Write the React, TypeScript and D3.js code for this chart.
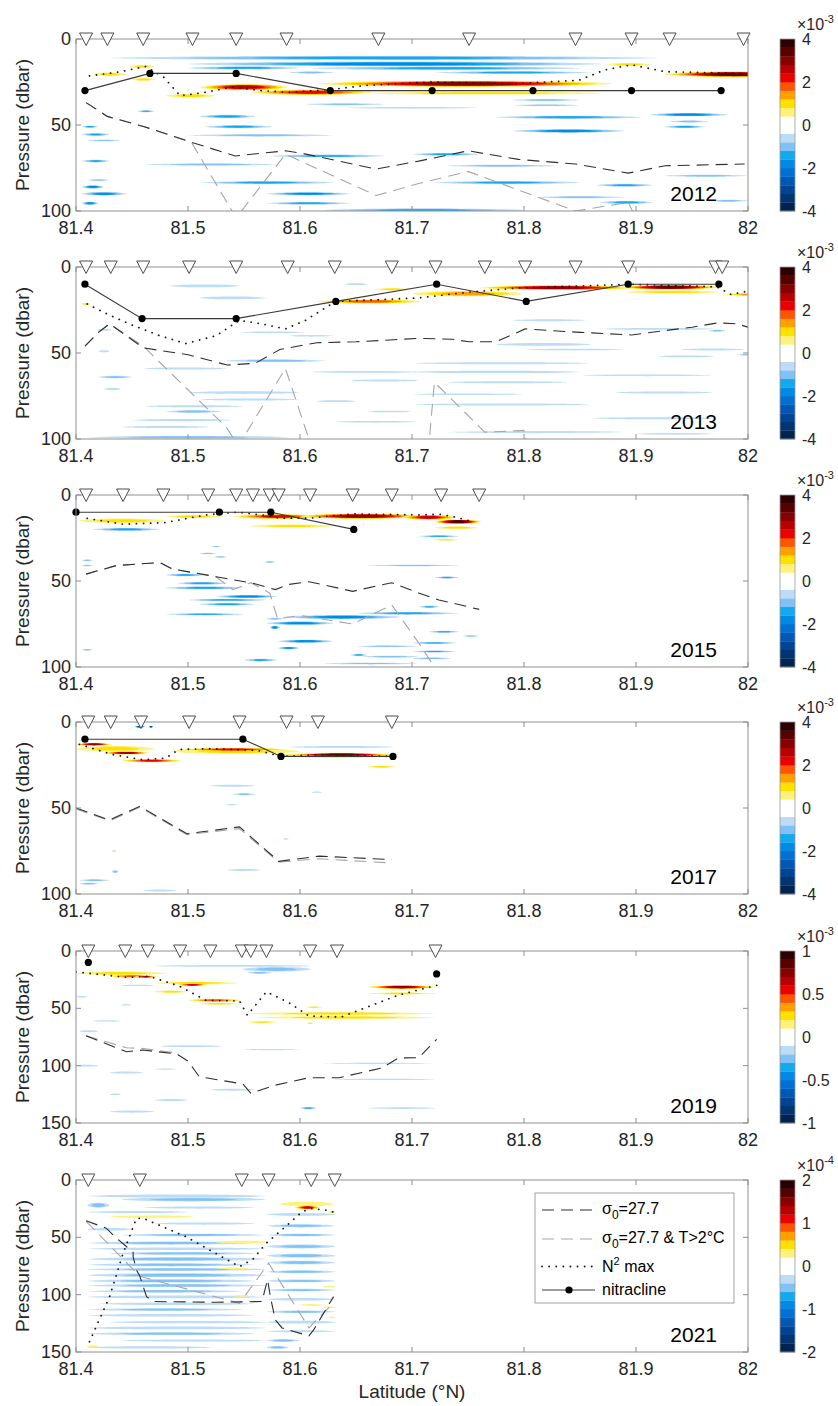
import React from 'react';
import * as d3 from 'd3';

type Pt = [number, number];
type NPt = [number, number | null];
// [lat start, lat end, pressure centre, half thickness (dbar), value]
type Streak = [number, number, number, number, number];

const FONT = "'Liberation Sans', Arial, Helvetica, sans-serif";
const W = 838;
const H = 1406;
const X0 = 76;
const X1 = 748;
const PANEL_TOPS = [39, 267, 495, 722, 951, 1180];
const PANEL_H = 172;
const CB_X = 780;
const CB_W = 15;

const latTicks = [81.4, 81.5, 81.6, 81.7, 81.8, 81.9, 82];
const latTickLabels = ['81.4', '81.5', '81.6', '81.7', '81.8', '81.9', '82'];

const years = ['2012', '2013', '2015', '2017', '2019', '2021'];
const pressureMax = [100, 100, 100, 100, 150, 150];
const pressureTicks = [[0, 50, 100], [0, 50, 100], [0, 50, 100], [0, 50, 100], [0, 50, 100, 150], [0, 50, 100, 150]];
const colorMax = [4, 4, 4, 4, 1, 2];
const colorExponent = ['-3', '-3', '-3', '-3', '-3', '-4'];
const colorTicks = [
  [-4, -2, 0, 2, 4], [-4, -2, 0, 2, 4], [-4, -2, 0, 2, 4], [-4, -2, 0, 2, 4],
  [-1, -0.5, 0, 0.5, 1], [-2, -1, 0, 1, 2],
];

// Diverging palette: nine shades each side of a white centre
const posColors = ['#fff27c', '#ffe100', '#ffa000', '#ff5400', '#ea0000', '#b80000', '#880000', '#580000', '#2c0000'];
const negColors = ['#bcdcf8', '#80c2f5', '#12a9ef', '#008ae6', '#0070d2', '#0058b4', '#004594', '#003574', '#002350'];

// CTD stations
const stations2012 = [81.409, 81.428, 81.46, 81.504, 81.543, 81.588, 81.67, 81.751, 81.846, 81.896, 81.93, 81.996];
const stations2013 = [81.409, 81.431, 81.46, 81.501, 81.543, 81.589, 81.631, 81.682, 81.721, 81.765, 81.801, 81.846, 81.893, 81.971, 81.977];
const stations2015 = [81.409, 81.442, 81.478, 81.518, 81.543, 81.558, 81.573, 81.581, 81.609, 81.647, 81.682, 81.726, 81.76];
const stations2017 = [81.411, 81.431, 81.458, 81.501, 81.546, 81.588, 81.616, 81.682];
const stations2019 = [81.411, 81.444, 81.464, 81.493, 81.52, 81.548, 81.556, 81.57, 81.609, 81.633, 81.721];
const stations2021 = [81.411, 81.457, 81.548, 81.572, 81.61, 81.631];

// Nitracline depth
const nitra2012: NPt[] = [[81.408, 30], [81.466, 20], [81.543, 20], [81.627, 30], [81.718, 30], [81.808, 30], [81.896, 30], [81.976, 30]];
const nitra2013: NPt[] = [[81.408, 10], [81.459, 30], [81.543, 30], [81.632, 20], [81.722, 10], [81.802, 20], [81.893, 10], [81.974, 10]];
const nitra2015: NPt[] = [[81.4, 10], [81.528, 10], [81.574, 10], [81.648, 20]];
const nitra2017: NPt[] = [[81.408, 10], [81.549, 10], [81.583, 20], [81.683, 20]];
const nitra2019: NPt[] = [[81.411, 10], [81.55, null], [81.722, 20]];
const nitra2021: NPt[] = [];

// Depth of the buoyancy frequency maximum
const n2max2012: Pt[] = [[81.412, 21.5], [81.44, 19], [81.462, 16], [81.478, 22], [81.493, 33], [81.515, 31], [81.54, 28], [81.565, 30], [81.59, 31], [81.625, 29.5], [81.66, 27], [81.717, 25], [81.79, 26], [81.849, 24], [81.872, 18], [81.896, 15], [81.926, 19], [81.997, 20]];
const n2max2013: Pt[] = [[81.41, 21.5], [81.43, 28], [81.451, 34], [81.475, 40], [81.498, 44.5], [81.525, 40], [81.546, 31], [81.565, 33], [81.587, 36], [81.605, 31], [81.617, 26], [81.632, 20], [81.706, 18], [81.751, 14.6], [81.795, 12.2], [81.85, 11], [81.893, 10], [81.972, 11.5], [81.985, 16], [82.0, 14]];
const n2max2015: Pt[] = [[81.41, 13.6], [81.442, 17], [81.48, 16], [81.516, 11.6], [81.544, 10], [81.566, 11.6], [81.582, 13.5], [81.608, 13.5], [81.647, 11], [81.707, 11.6], [81.725, 11.2], [81.737, 12.6], [81.752, 15.1]];
const n2max2017: Pt[] = [[81.403, 13], [81.433, 19], [81.46, 22], [81.48, 21], [81.492, 16], [81.52, 15.5], [81.562, 16.5], [81.583, 20], [81.617, 19], [81.683, 20]];
const n2max2019: Pt[] = [[81.4, 18.3], [81.445, 23], [81.465, 22], [81.492, 30.5], [81.516, 43], [81.546, 43.5], [81.553, 56], [81.57, 35.5], [81.59, 45], [81.608, 56.7], [81.637, 57.5], [81.688, 38.4], [81.722, 30]];
const n2max2021: Pt[] = [[81.412, 141], [81.43, 101.7], [81.442, 64], [81.454, 33.4], [81.46, 33.4], [81.498, 49.4], [81.546, 75.6], [81.558, 69], [81.57, 55], [81.587, 40.7], [81.602, 27.6], [81.61, 25], [81.625, 26.5], [81.63, 28]];

// Depth of the sigma0 = 27.7 isopycnal
const sigma2012: Pt[] = [[81.409, 37], [81.428, 45], [81.461, 51], [81.503, 60], [81.542, 68], [81.587, 65], [81.602, 66.5], [81.668, 75.6], [81.706, 71], [81.75, 65], [81.795, 70], [81.846, 72.7], [81.893, 78], [81.926, 73.7], [81.997, 72.7]];
const sigma2013: Pt[] = [[81.408, 46], [81.42, 38], [81.43, 33], [81.445, 40], [81.46, 47], [81.5, 51], [81.535, 57], [81.56, 56], [81.582, 48], [81.615, 44], [81.65, 43.5], [81.706, 41.5], [81.736, 42], [81.751, 43.5], [81.775, 43.5], [81.801, 36], [81.85, 38], [81.896, 39.5], [81.95, 35], [81.973, 32.5], [81.99, 33], [82.0, 35]];
const sigma2015: Pt[] = [[81.409, 46], [81.436, 41], [81.475, 39.3], [81.486, 43], [81.525, 47.5], [81.558, 51.3], [81.578, 55], [81.59, 52], [81.608, 50.4], [81.647, 56], [81.682, 51], [81.706, 57], [81.724, 61], [81.76, 66.5]];
const sigma2017: Pt[] = [[81.4, 50], [81.43, 57], [81.457, 49], [81.499, 65], [81.546, 61], [81.581, 81], [81.617, 78], [81.682, 80]];
const sigma2019: Pt[] = [[81.409, 74], [81.445, 87.8], [81.46, 86.4], [81.49, 89.8], [81.5, 96], [81.51, 109.6], [81.549, 116], [81.556, 124], [81.578, 117], [81.608, 110.5], [81.635, 110.5], [81.673, 102], [81.688, 93.3], [81.706, 93], [81.722, 77]];
const sigma2021: Pt[] = [[81.409, 35.5], [81.427, 42], [81.436, 50.6], [81.445, 58], [81.451, 63], [81.451, 67], [81.454, 78.5], [81.457, 84], [81.46, 93], [81.463, 101.7], [81.469, 106], [81.526, 106.6], [81.566, 106], [81.571, 87], [81.574, 104], [81.578, 122], [81.584, 129], [81.608, 136], [81.612, 131], [81.63, 101.7]];

// Same isopycnal where the water is warmer than 2 °C
const warm2012: Pt[] = [[81.409, 37], [81.428, 45], [81.461, 51], [81.503, 60], [81.543, 104], [81.587, 67], [81.668, 91], [81.706, 84], [81.75, 77], [81.846, 100], [81.893, 95], [81.9, 104]];
const warm2013: Pt[] = [[81.408, 46], [81.42, 38], [81.43, 33], [81.46, 46], [81.534, 93], [81.545, 104], [81.587, 59], [81.61, 104], [81.715, 104], [81.72, 67], [81.765, 96], [81.8, 95], [81.803, 104]];
const warm2015: Pt[] = [[81.409, 46], [81.436, 41], [81.475, 39.3], [81.486, 43], [81.525, 47.5], [81.54, 55], [81.556, 51], [81.573, 57], [81.58, 72], [81.6, 70], [81.647, 75], [81.682, 64], [81.706, 86], [81.718, 98]];
const warm2017: Pt[] = [[81.4, 50.5], [81.43, 57.5], [81.457, 49.5], [81.499, 65.5], [81.546, 62], [81.581, 81.5], [81.617, 79.5], [81.682, 82]];
const warm2019: Pt[] = [[81.409, 74], [81.43, 80], [81.445, 84.4], [81.46, 85], [81.49, 89]];
const warm2021: Pt[] = [[81.409, 36], [81.457, 84], [81.546, 107.5], [81.572, 72.6], [81.608, 129], [81.63, 107]];

// Filled-contour field, described as horizontal lenses
const field2012: Streak[] = [
  [81.43, 81.92, 11, 1.2, -1.5], [81.5, 81.87, 14.5, 1.4, -1.7], [81.5, 81.6, 16.8, 0.9, -1.5],
  [81.61, 81.85, 17, 1.0, -1.4], [81.72, 81.86, 19.5, 0.8, -1.3], [81.59, 81.63, 19.5, 0.6, -0.9],
  [81.415, 81.445, 20.5, 1.0, 1.1], [81.448, 81.47, 16, 0.9, 1.1], [81.45, 81.47, 23.5, 0.8, 0.9],
  [81.48, 81.525, 33, 1.1, 1.1], [81.51, 81.59, 28, 1.8, 2.5], [81.555, 81.665, 31, 1.6, 2.3],
  [81.615, 81.88, 26, 1.8, 2.8], [81.66, 81.87, 31.5, 0.8, 1.0], [81.875, 81.912, 14.8, 0.8, 1.0],
  [81.925, 82.05, 20.5, 1.6, 3.2],
  [81.405, 81.42, 51, 0.6, -1.4], [81.405, 81.43, 55.5, 0.8, -1.5], [81.41, 81.44, 59, 0.5, -0.9],
  [81.455, 81.47, 42, 0.6, -1.3], [81.51, 81.56, 45, 1.0, -1.5], [81.515, 81.575, 51, 0.9, -1.5],
  [81.5, 81.63, 56, 0.7, -1.0], [81.605, 81.675, 38, 0.6, -0.9], [81.64, 81.76, 40, 0.5, -0.7],
  [81.405, 81.43, 71, 0.8, -1.4], [81.405, 81.425, 86, 0.9, -1.6], [81.405, 81.445, 90, 1.0, -1.7],
  [81.405, 81.42, 95.5, 0.9, -1.8], [81.41, 81.43, 82, 0.5, -0.9], [81.46, 81.58, 73, 0.6, -0.9],
  [81.575, 81.675, 68, 0.8, -1.4], [81.7, 81.76, 67, 0.8, -1.3], [81.51, 81.63, 83.5, 0.9, -1.4],
  [81.57, 81.645, 90, 0.9, -1.6], [81.57, 81.645, 95.5, 0.8, -1.3], [81.62, 81.8, 99.5, 1.0, -1.4],
  [81.72, 81.85, 83.5, 0.9, -1.5], [81.73, 81.83, 73.7, 0.6, -1.1], [81.865, 81.915, 85, 0.8, -1.2],
  [81.868, 81.915, 95, 0.8, -1.2], [81.81, 81.89, 92, 0.6, -0.9], [81.925, 82.0, 79.5, 0.6, -0.9],
  [81.775, 81.905, 45.5, 0.9, -1.5], [81.79, 81.89, 53.5, 1.0, -1.6], [81.912, 81.982, 44, 1.0, -1.7],
  [81.925, 81.962, 51, 0.8, -1.3], [81.93, 81.965, 48, 0.6, -1.1], [81.79, 81.85, 35.5, 0.6, -1.0],
  [81.79, 81.85, 38.5, 0.5, -0.8], [81.965, 82.0, 94, 0.6, -1.0],
];

const field2013: Streak[] = [
  [81.484, 81.546, 11, 0.8, -0.7], [81.51, 81.57, 18, 0.8, -0.6], [81.64, 81.66, 10, 0.5, -0.5],
  [81.418, 81.432, 36.6, 0.5, -0.6], [81.42, 81.43, 49, 0.6, -0.6], [81.59, 81.63, 40, 0.5, -0.6],
  [81.545, 81.605, 38, 0.5, -0.5], [81.534, 81.623, 54.5, 0.8, -0.8], [81.46, 81.535, 59, 0.6, -0.6],
  [81.42, 81.45, 64, 0.8, -0.8], [81.425, 81.44, 71, 0.6, -0.7], [81.5, 81.6, 73, 0.8, -0.7],
  [81.51, 81.6, 77, 0.6, -0.7], [81.46, 81.55, 81, 0.6, -0.6], [81.48, 81.53, 84, 0.8, -0.8],
  [81.45, 81.54, 89, 0.7, -0.6], [81.44, 81.52, 93, 0.6, -0.6], [81.41, 81.59, 99, 0.8, -0.8],
  [81.645, 81.706, 66, 0.6, -0.6], [81.61, 81.706, 61, 0.5, -0.5], [81.615, 81.65, 78, 0.5, -0.6],
  [81.63, 81.706, 90, 0.5, -0.5], [81.79, 81.855, 31, 0.6, -0.6], [81.87, 81.97, 36, 0.5, -0.5],
  [81.965, 81.98, 37, 0.6, -0.9], [81.775, 81.86, 45, 0.8, -0.6], [81.8, 81.89, 48, 0.5, -0.5],
  [81.7, 81.86, 56, 0.6, -0.6], [81.94, 81.997, 48, 0.6, -0.6], [81.92, 81.97, 52, 0.5, -0.6],
  [81.7, 81.85, 61, 0.7, -0.7], [81.73, 81.84, 67, 0.6, -0.6], [81.85, 81.97, 63, 0.5, -0.6],
  [81.88, 81.97, 73, 0.6, -0.6], [81.7, 81.8, 74, 0.5, -0.6], [81.7, 81.86, 80, 0.6, -0.6],
  [81.86, 81.97, 88, 0.6, -0.6], [81.73, 81.89, 96, 0.6, -0.7], [81.9, 81.97, 97, 0.5, -0.6],
  [81.99, 82.01, 51, 0.5, -1.0], [81.66, 81.7, 84, 0.5, -0.6],
  [81.405, 81.413, 21.5, 0.6, 1.0], [81.615, 81.71, 20, 1.2, 1.6], [81.665, 81.7, 13, 0.7, 1.0],
  [81.7, 81.8, 15.5, 1.6, 1.5], [81.76, 81.9, 12, 1.3, 2.8], [81.885, 81.975, 11.8, 1.3, 3.4],
  [81.89, 81.975, 14.5, 0.9, 1.0], [81.978, 82.03, 16, 0.8, 1.2],
];

const field2015: Streak[] = [
  [81.415, 81.475, 20, 0.8, -1.4], [81.51, 81.525, 34, 0.5, -1.1], [81.52, 81.53, 30, 0.4, -0.9],
  [81.568, 81.578, 39, 0.5, -1.1], [81.405, 81.415, 38, 0.5, -1.0], [81.405, 81.415, 41, 0.5, -1.0],
  [81.48, 81.515, 46.5, 0.8, -1.3], [81.49, 81.535, 51.3, 0.8, -1.3], [81.48, 81.55, 54, 0.8, -1.4],
  [81.525, 81.58, 59, 0.9, -1.6], [81.5, 81.57, 61, 0.7, -1.4], [81.51, 81.56, 63.5, 0.8, -1.5],
  [81.48, 81.55, 69.4, 0.6, -1.3], [81.57, 81.585, 72, 0.6, -1.1], [81.585, 81.69, 71, 1.2, -1.7],
  [81.65, 81.742, 68.8, 0.8, -1.5], [81.57, 81.63, 74.5, 1.0, -1.7], [81.573, 81.582, 77, 1.0, -1.8],
  [81.58, 81.63, 85, 0.9, -1.6], [81.58, 81.6, 89, 0.7, -1.6], [81.645, 81.66, 93, 0.6, -1.2],
  [81.55, 81.58, 96, 0.8, -1.5], [81.62, 81.706, 98, 0.5, -0.8], [81.655, 81.706, 94, 0.5, -0.8],
  [81.66, 81.742, 41, 0.4, -0.9], [81.65, 81.706, 88, 0.5, -0.8], [81.706, 81.742, 24, 0.6, -1.5],
  [81.72, 81.742, 48, 0.6, -1.3], [81.706, 81.725, 65, 0.6, -1.4], [81.715, 81.742, 79.5, 0.6, -1.3],
  [81.7, 81.74, 86, 0.5, -1.2], [81.7, 81.74, 91, 0.5, -1.2], [81.7, 81.735, 95, 0.5, -1.0],
  [81.745, 81.76, 82, 0.4, -0.8], [81.405, 81.415, 90, 0.5, -1.0], [81.523, 81.535, 36, 0.4, -1.0],
  [81.402, 81.48, 15, 1.3, 1.0], [81.48, 81.53, 12.5, 0.9, 1.0], [81.54, 81.62, 12.5, 1.4, 2.2],
  [81.6, 81.71, 12.3, 1.5, 2.8], [81.555, 81.63, 18, 0.9, 0.9], [81.643, 81.652, 21, 0.5, 0.9],
  [81.69, 81.74, 13, 1.4, 2.4], [81.72, 81.762, 15.5, 1.2, 3.8], [81.72, 81.76, 19, 0.7, 1.0],
  [81.718, 81.742, 26, 0.5, 0.9],
];

const field2017: Streak[] = [
  [81.59, 81.685, 14.5, 0.6, -0.6], [81.52, 81.56, 37, 0.6, -0.6], [81.54, 81.56, 42, 0.6, -0.8],
  [81.61, 81.62, 40.8, 0.4, -0.6], [81.533, 81.545, 48, 0.4, -0.6], [81.535, 81.565, 86, 0.6, -0.7],
  [81.403, 81.43, 92, 0.6, -0.9], [81.403, 81.42, 94, 0.5, -1.1], [81.432, 81.438, 87, 0.8, -0.8],
  [81.432, 81.436, 75, 0.5, -0.6], [81.46, 81.49, 98, 0.6, -0.7], [81.585, 81.59, 68, 0.4, -0.5],
  [81.452, 81.462, 2.8, 0.4, -3.4], [81.465, 81.469, 2.8, 0.4, -3.4],
  [81.4, 81.47, 15.5, 1.6, 1.0], [81.4, 81.432, 13, 0.8, 2.8], [81.425, 81.465, 18, 0.8, 3.0],
  [81.44, 81.495, 22.5, 0.9, 2.2], [81.485, 81.6, 17, 1.6, 1.0], [81.49, 81.59, 16, 0.9, 2.0],
  [81.58, 81.685, 19.5, 1.6, 1.1], [81.59, 81.683, 19, 0.9, 3.2], [81.66, 81.685, 26, 0.6, 1.0],
];

const field2019: Streak[] = [
  [81.47, 81.61, 13, 0.8, -0.15], [81.548, 81.61, 16, 2.0, -0.2], [81.553, 81.575, 19, 0.9, -0.2],
  [81.4, 81.41, 40, 0.8, -0.15], [81.403, 81.42, 70, 0.8, -0.15], [81.475, 81.53, 83, 0.8, -0.16],
  [81.55, 81.6, 86, 0.6, -0.15], [81.43, 81.46, 106, 1.0, -0.16], [81.47, 81.49, 103, 0.6, -0.15],
  [81.52, 81.56, 121, 0.8, -0.15], [81.47, 81.5, 130, 1.0, -0.16], [81.43, 81.47, 140, 1.0, -0.16],
  [81.6, 81.615, 137, 1.0, -0.3], [81.66, 81.722, 137, 0.8, -0.15], [81.4, 81.42, 100, 0.8, -0.15],
  [81.43, 81.44, 125, 0.8, -0.15], [81.62, 81.72, 98, 0.6, -0.12], [81.63, 81.72, 112, 0.6, -0.13],
  [81.44, 81.47, 30, 0.6, -0.12], [81.44, 81.45, 47, 0.6, -0.12], [81.415, 81.44, 61, 0.6, -0.12],
  [81.4, 81.48, 19.5, 1.6, 0.25], [81.43, 81.47, 22, 1.2, 0.4], [81.452, 81.472, 22.5, 0.8, 0.65],
  [81.47, 81.545, 28, 1.3, 0.25], [81.49, 81.518, 29.5, 1.0, 0.6], [81.47, 81.5, 35.5, 1.0, 0.25],
  [81.5, 81.548, 43, 1.4, 0.45], [81.51, 81.545, 46, 0.8, 0.25], [81.552, 81.722, 54.5, 1.2, 0.22],
  [81.56, 81.722, 58, 1.2, 0.23], [81.553, 81.58, 62, 0.8, 0.22], [81.606, 81.612, 63, 0.6, 0.22],
  [81.66, 81.722, 31.5, 1.6, 0.75], [81.66, 81.722, 37, 0.9, 0.22], [81.605, 81.62, 49, 0.6, 0.2],
];

const field2021: Streak[] = [
  [81.41, 81.57, 14, 1.4, -0.35], [81.44, 81.57, 17, 1.7, -0.45], [81.41, 81.43, 22, 2.2, -0.45],
  [81.46, 81.56, 24, 1.0, -0.3], [81.41, 81.5, 28, 1.0, -0.3], [81.47, 81.56, 38, 1.0, -0.3],
  [81.41, 81.45, 43, 1.2, -0.35], [81.44, 81.57, 48, 1.2, -0.4], [81.41, 81.56, 55, 1.4, -0.45],
  [81.41, 81.57, 60, 1.2, -0.35], [81.43, 81.56, 64, 1.2, -0.4], [81.41, 81.57, 69, 1.7, -0.45],
  [81.41, 81.56, 74, 1.4, -0.4], [81.41, 81.57, 78, 1.2, -0.4], [81.41, 81.57, 83, 1.7, -0.45],
  [81.41, 81.56, 88, 1.4, -0.4], [81.41, 81.57, 92, 1.4, -0.45], [81.41, 81.55, 97, 1.2, -0.4],
  [81.41, 81.57, 102, 1.2, -0.35], [81.42, 81.56, 108, 1.2, -0.35], [81.41, 81.55, 113, 1.2, -0.4],
  [81.41, 81.56, 118, 1.2, -0.35], [81.43, 81.57, 124, 1.0, -0.3], [81.41, 81.57, 129, 1.2, -0.35],
  [81.41, 81.56, 134, 1.2, -0.4], [81.44, 81.57, 140, 1.0, -0.3], [81.41, 81.52, 146, 1.0, -0.3],
  [81.57, 81.632, 30, 1.2, -0.35], [81.57, 81.632, 40, 1.4, -0.4], [81.57, 81.632, 48, 1.2, -0.4],
  [81.57, 81.632, 58, 1.7, -0.45], [81.57, 81.632, 66, 1.7, -0.45], [81.57, 81.632, 72, 1.7, -0.5],
  [81.57, 81.632, 80, 1.4, -0.45], [81.57, 81.632, 88, 1.2, -0.4], [81.57, 81.632, 96, 1.2, -0.4],
  [81.57, 81.632, 104, 1.2, -0.35], [81.57, 81.632, 115, 1.2, -0.4], [81.57, 81.632, 124, 1.2, -0.35],
  [81.57, 81.632, 132, 1.0, -0.35], [81.57, 81.6, 140, 1.2, -0.4], [81.57, 81.59, 146, 1.2, -0.4],
  [81.43, 81.505, 32, 1.0, 0.3], [81.525, 81.575, 54, 1.0, 0.3], [81.527, 81.555, 77, 0.8, 0.25],
  [81.54, 81.555, 101, 0.8, 0.25], [81.6, 81.62, 109, 0.8, 0.3], [81.62, 81.632, 93, 0.8, 0.25],
  [81.62, 81.632, 111, 0.8, 0.3], [81.625, 81.632, 120, 0.8, 0.3], [81.41, 81.42, 145, 1.0, 0.3],
  [81.582, 81.63, 21, 2.0, 0.3], [81.595, 81.618, 24, 1.5, 1.2], [81.625, 81.632, 28, 0.8, 0.4],
];

const stationSets = [stations2012, stations2013, stations2015, stations2017, stations2019, stations2021];
const nitraSets = [nitra2012, nitra2013, nitra2015, nitra2017, nitra2019, nitra2021];
const n2Sets = [n2max2012, n2max2013, n2max2015, n2max2017, n2max2019, n2max2021];
const sigmaSets = [sigma2012, sigma2013, sigma2015, sigma2017, sigma2019, sigma2021];
const warmSets = [warm2012, warm2013, warm2015, warm2017, warm2019, warm2021];
const fieldSets = [field2012, field2013, field2015, field2017, field2019, field2021];

const AXIS = '#8f8f8f';
const TXT = '#262626';

const xLat = d3.scaleLinear().domain([81.4, 82]).range([X0, X1]);

function lensPath(xa: number, xb: number, yc: number, h: number) {
  const w = xb - xa;
  const k = 1.3 * h;
  return `M${xa},${yc}C${xa + 0.12 * w},${yc - k} ${xb - 0.12 * w},${yc - k} ${xb},${yc}` +
    `C${xb - 0.12 * w},${yc + k} ${xa + 0.12 * w},${yc + k} ${xa},${yc}Z`;
}

// Nested contour levels: each stronger level is a shorter, thinner lens
function streakLayers(s: Streak, y: d3.ScaleLinear<number, number>, cMax: number) {
  const [la, lb, p, dp, v] = s;
  const xa = xLat(la);
  const xb = xLat(lb);
  const yc = y(p);
  const h = Math.max(0.6, Math.abs(y(dp) - y(0)));
  const n = Math.min(9, Math.floor((Math.abs(v) / cMax) * 10 + 1e-9));
  const pal = v > 0 ? posColors : negColors;
  const out: { d: string; fill: string }[] = [];
  const cx = (xa + xb) / 2;
  for (let j = 0; j < n; j++) {
    const f = n > 1 ? j / n : 0;
    const hw = ((xb - xa) / 2) * (1 - 0.78 * f);
    const hh = Math.max(0.4, h * (1 - 0.6 * f));
    out.push({ d: lensPath(cx - hw, cx + hw, yc, hh), fill: pal[j] });
  }
  return out;
}

function binColor(k: number) {
  if (k >= 10) {
    const idx = k - 10;
    return idx === 0 ? '#ffffff' : posColors[idx - 1];
  }
  const idx = 9 - k;
  return idx === 0 ? '#ffffff' : negColors[idx - 1];
}

function Panel({ i }: { i: number }) {
  const top = PANEL_TOPS[i];
  const bottom = top + PANEL_H;
  const pMax = pressureMax[i];
  const cMax = colorMax[i];
  const y = d3.scaleLinear().domain([0, pMax]).range([top, bottom]);
  const clipId = `clip-${years[i]}`;
  const line = d3.line<Pt>().x((d) => xLat(d[0])).y((d) => y(d[1]));
  const nitraLine = d3
    .line<NPt>()
    .defined((d) => d[1] != null)
    .x((d) => xLat(d[0]))
    .y((d) => y(d[1] as number));
  const cb = d3.scaleLinear().domain([-cMax, cMax]).range([bottom, top]);
  const layers = fieldSets[i].flatMap((s) => streakLayers(s, y, cMax));

  return (
    <g>
      <defs>
        <clipPath id={clipId}>
          <rect x={X0} y={top} width={X1 - X0} height={PANEL_H} />
        </clipPath>
      </defs>
      <g clipPath={`url(#${clipId})`}>
        {layers.map((l, k) => (
          <path key={k} d={l.d} fill={l.fill} />
        ))}
        <path d={line(warmSets[i]) || ''} fill="none" stroke="#a6a6a6" strokeWidth={1.1} strokeDasharray="12,7" />
        <path d={line(sigmaSets[i]) || ''} fill="none" stroke="#2e2e2e" strokeWidth={1.1} strokeDasharray="12,7" />
        <path d={line(n2Sets[i]) || ''} fill="none" stroke="#1a1a1a" strokeWidth={1.8} strokeLinecap="round" strokeDasharray="0.1,7" />
      </g>
      {nitraSets[i].length > 0 && (
        <path d={nitraLine(nitraSets[i]) || ''} fill="none" stroke="#3a3a3a" strokeWidth={1.1} />
      )}
      {nitraSets[i]
        .filter((d) => d[1] != null)
        .map((d, k) => (
          <circle key={k} cx={xLat(d[0])} cy={y(d[1] as number)} r={3.6} fill="#000" />
        ))}

      {/* axes box and inward ticks */}
      <rect x={X0} y={top} width={X1 - X0} height={PANEL_H} fill="none" stroke={AXIS} strokeWidth={1} />
      {latTicks.map((t, k) => (
        <g key={k}>
          <line x1={xLat(t)} x2={xLat(t)} y1={bottom} y2={bottom - 5} stroke={AXIS} />
          <line x1={xLat(t)} x2={xLat(t)} y1={top} y2={top + 5} stroke={AXIS} />
          <text x={xLat(t)} y={bottom + 23} textAnchor="middle" fontSize={18} fill={TXT}>
            {latTickLabels[k]}
          </text>
        </g>
      ))}
      {pressureTicks[i].map((t, k) => (
        <g key={k}>
          <line x1={X0} x2={X0 + 5} y1={y(t)} y2={y(t)} stroke={AXIS} />
          <line x1={X1} x2={X1 - 5} y1={y(t)} y2={y(t)} stroke={AXIS} />
          <text x={71} y={y(t) + 6} textAnchor="end" fontSize={18} fill={TXT}>
            {t}
          </text>
        </g>
      ))}
      <text transform={`translate(29,${(top + bottom) / 2}) rotate(-90)`} textAnchor="middle" fontSize={19} fill={TXT}>
        Pressure (dbar)
      </text>

      {/* station markers */}
      {stationSets[i].map((s, k) => {
        const cx = xLat(s);
        return (
          <path
            key={k}
            d={`M${cx - 6.5},${top - 6}L${cx + 6.5},${top - 6}L${cx},${top + 6.5}Z`}
            fill="#fff"
            stroke="#4d4d4d"
            strokeWidth={1}
          />
        );
      })}

      <text x={717} y={top + 162} textAnchor="end" fontSize={21} fill="#000">
        {years[i]}
      </text>

      {/* colour bar */}
      {d3.range(20).map((k) => {
        const v0 = -cMax + (k * cMax) / 10;
        const v1 = v0 + cMax / 10;
        return <rect key={k} x={CB_X} y={cb(v1)} width={CB_W} height={cb(v0) - cb(v1) + 0.3} fill={binColor(k)} />;
      })}
      <rect x={CB_X} y={top} width={CB_W} height={PANEL_H} fill="none" stroke="#9a9a9a" strokeWidth={0.8} />
      {colorTicks[i].map((t, k) => (
        <text key={k} x={802} y={cb(t) + 5.5} fontSize={16} fill={TXT}>
          {String(t)}
        </text>
      ))}
      <text x={797} y={top - 9} fontSize={16} fill={TXT}>
        ×10
        <tspan dy={-7} fontSize={11}>
          {colorExponent[i]}
        </tspan>
      </text>
    </g>
  );
}

function Legend() {
  const bx = 535;
  const by = 1193;
  const lx1 = 542;
  const lx2 = 595;
  const tx = 602;
  return (
    <g>
      <rect x={bx} y={by} width={199} height={110} fill="#fff" stroke="#8a8a8a" strokeWidth={0.8} />
      <line x1={lx1} x2={lx2} y1={1210} y2={1210} stroke="#2e2e2e" strokeWidth={1.1} strokeDasharray="12,7" />
      <text x={tx} y={1214} fontSize={16} fill="#000">
        σ<tspan dy={5} fontSize={12}>0</tspan>
        <tspan dy={-5}>=27.7</tspan>
      </text>
      <line x1={lx1} x2={lx2} y1={1239} y2={1239} stroke="#a6a6a6" strokeWidth={1.1} strokeDasharray="12,7" />
      <text x={tx} y={1243} fontSize={16} fill="#000">
        σ<tspan dy={5} fontSize={12}>0</tspan>
        <tspan dy={-5}>=27.7 &amp; T&gt;2°C</tspan>
      </text>
      <line x1={lx1} x2={lx2} y1={1266.5} y2={1266.5} stroke="#1a1a1a" strokeWidth={1.8} strokeLinecap="round" strokeDasharray="0.1,7" />
      <text x={tx} y={1272} fontSize={16} fill="#000">
        N<tspan dy={-7} fontSize={11}>2</tspan>
        <tspan dy={7}> max</tspan>
      </text>
      <line x1={lx1} x2={lx2} y1={1290} y2={1290} stroke="#3a3a3a" strokeWidth={1.1} />
      <circle cx={569} cy={1290} r={3.6} fill="#000" />
      <text x={tx} y={1295} fontSize={16} fill="#000">
        nitracline
      </text>
    </g>
  );
}

export default function App() {
  return (
    <svg
      width={W}
      height={H}
      viewBox={`0 0 ${W} ${H}`}
      style={{ position: 'absolute', left: 0, top: 0, display: 'block', background: '#fff' }}
      fontFamily={FONT}
    >
      <rect width={W} height={H} fill="#fff" />
      {years.map((_, i) => (
        <Panel key={i} i={i} />
      ))}
      <Legend />
      <text x={412} y={1398} textAnchor="middle" fontSize={19} fill={TXT}>
        Latitude (°N)
      </text>
    </svg>
  );
}
